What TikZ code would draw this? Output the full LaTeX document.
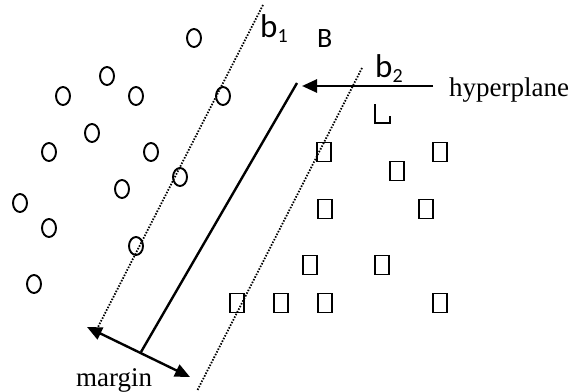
\documentclass[tikz,border=0pt]{standalone}
\usepackage{fontspec}
\setmainfont{Liberation Serif}
\newfontfamily\calfont{Carlito}
\usetikzlibrary{arrows.meta,shapes.geometric}
\newcommand\lowsub[1]{\raisebox{-5pt}{\fontsize{20}{20}\selectfont #1}}
\tikzset{
  circ/.style={draw,line width=1.9pt,shape=ellipse,minimum width=14pt,minimum height=18pt,inner sep=0pt},
  sq/.style={draw,line width=1.8pt,shape=rectangle,minimum width=14pt,minimum height=19pt,inner sep=0pt},
  boundary/.style={line width=1.8pt,dash pattern=on 1.5pt off 1.5pt},
  hyper/.style={line width=2.4pt},
  arr/.style={line width=2.6pt,-{Triangle[length=15pt,width=13pt]}},
  darr/.style={line width=2.4pt,{Triangle[length=15pt,width=13pt]}-{Triangle[length=15pt,width=13pt]}},
  lab/.style={inner sep=0pt,anchor=base west,font=\fontsize{27}{30}\selectfont},
  clab/.style={inner sep=0pt,anchor=base west,font=\calfont\fontsize{33}{36}\selectfont},
  cbig/.style={inner sep=0pt,anchor=base west,font=\calfont\fontsize{28}{32}\selectfont}
}
\begin{document}
\begin{tikzpicture}[x=1pt,y=-1pt]
\useasboundingbox (0,0) rectangle (573,391);
% circles
\foreach \i/\p in {1/{194,38},2/{107,76},3/{63,96},4/{136,96},5/{223,96},6/{92,133},7/{49,152},8/{151,152},9/{180,177},10/{122,189},11/{20,203},12/{49,228},13/{136,246},14/{34,284}}
  \node[circ] (c\i) at (\p) {};
% squares
\foreach \i/\p in {1/{324,152},2/{440,152},3/{397,171},4/{325,209},5/{426,209},6/{310,265},7/{382,265},8/{237,303},9/{281,303},10/{325,303},11/{440,303}}
  \node[sq] (s\i) at (\p) {};
% broken square
\coordinate (bq1) at (375,104);
\coordinate (bq2) at (375,123);
\coordinate (bq3) at (390,123);
\coordinate (bq4) at (390,116);
\draw[line width=1.3pt] (bq1) -- (bq2) -- (bq3) -- (bq4);
% boundaries
\coordinate (b1top) at (263,5);
\coordinate (b1bot) at (97,329);
\coordinate (b2top) at (362,68);
\coordinate (b2bot) at (197,391);
\draw[boundary] (b1top) -- (b1bot);
\draw[boundary] (b2top) -- (b2bot);
% hyperplane
\coordinate (htop) at (297,83);
\coordinate (hbot) at (141,352);
\draw[hyper] (htop) -- (hbot);
% hyperplane arrow
\coordinate (hstart) at (433,86);
\coordinate (hend) at (302,86);
\draw[arr] (hstart) -- (hend);
% margin arrow
\coordinate (ml) at (87,327);
\coordinate (mr) at (190,377);
\draw[darr] (ml) -- (mr);
% labels
\node[clab] (lb1) at (260,37) {b\lowsub{1}};
\node[cbig] (lB) at (317,47) {B};
\node[clab] (lb2) at (375,77) {b\lowsub{2}};
\node[lab] (lh) at (449,96) {hyperplane};
\node[lab] (lm) at (76,386) {margin};
\end{tikzpicture}
\end{document}
